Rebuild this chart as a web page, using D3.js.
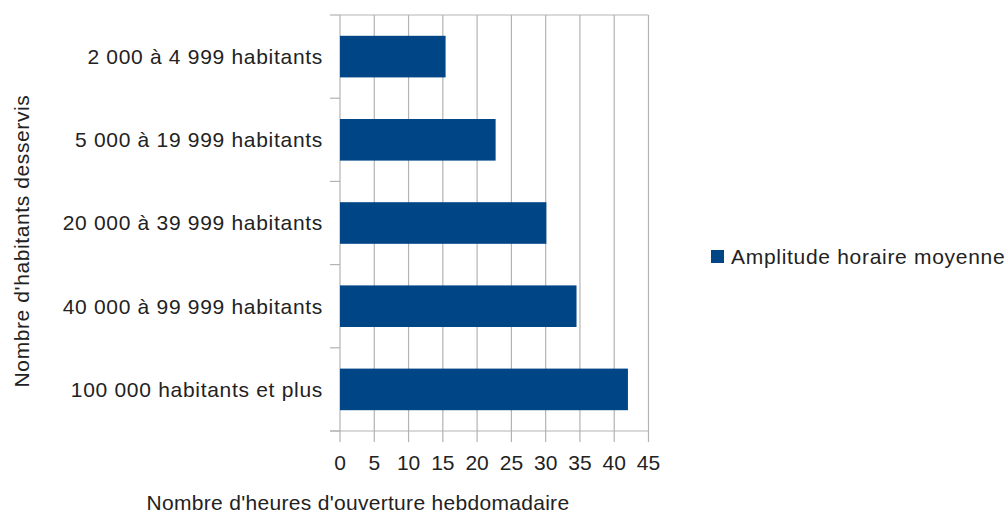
<!DOCTYPE html>
<html><head><meta charset="utf-8">
<script src="https://cdn.jsdelivr.net/npm/d3@7"></script>
<style>body{margin:0;background:#fff}svg{display:block}text{font-family:"Liberation Sans",Arial,sans-serif;fill:#222}</style>
</head><body><svg width="1008" height="515"></svg>
<script>
const categories = ["2 000 à 4 999 habitants","5 000 à 19 999 habitants","20 000 à 39 999 habitants","40 000 à 99 999 habitants","100 000 habitants et plus"];
const values = [15.4, 22.7, 30.1, 34.5, 42.0];
const xTicks = [0,5,10,15,20,25,30,35,40,45];
const seriesName = "Amplitude horaire moyenne";
const xTitle = "Nombre d'heures d'ouverture hebdomadaire";
const yTitle = "Nombre d'habitants desservis";

const svg = d3.select("svg");
const L = 340, R = 648.5, T = 15, B = 431;
const x = d3.scaleLinear().domain([0,45]).range([L,R]);
const y = d3.scaleBand().domain(categories).range([T,B]).paddingInner(0.5).paddingOuter(0.25);
const grid = "#b3b3b3";

// gridlines
svg.append("g").selectAll("line").data(xTicks).join("line")
  .attr("x1",d=>x(d)).attr("x2",d=>x(d)).attr("y1",T).attr("y2",B+11)
  .attr("stroke",grid).attr("stroke-width",1.2);
// top border
svg.append("line").attr("x1",L).attr("x2",R).attr("y1",T).attr("y2",T).attr("stroke",grid).attr("stroke-width",1.2);
// bottom axis
svg.append("line").attr("x1",L-10).attr("x2",R).attr("y1",B).attr("y2",B).attr("stroke",grid).attr("stroke-width",1.2);
// category ticks (boundaries)
const bounds = d3.range(categories.length+1).map(i=>T+i*(B-T)/categories.length);
svg.append("g").selectAll("line").data(bounds).join("line")
  .attr("x1",L-10).attr("x2",L).attr("y1",d=>d).attr("y2",d=>d).attr("stroke",grid).attr("stroke-width",1.2);

// bars
svg.append("g").selectAll("rect").data(values).join("rect")
  .attr("x",x(0)).attr("y",(d,i)=>y(categories[i])).attr("width",d=>x(d)-x(0)).attr("height",y.bandwidth())
  .attr("fill","#004586");

// category labels
svg.append("g").selectAll("text").data(categories).join("text")
  .attr("x",L-17).attr("y",d=>y(d)+y.bandwidth()/2).attr("dy","0.35em").attr("text-anchor","end")
  .attr("font-size",21).attr("letter-spacing",0.7).text(d=>d);

// x tick labels
svg.append("g").selectAll("text").data(xTicks).join("text")
  .attr("x",d=>x(d)).attr("y",470).attr("text-anchor","middle").attr("font-size",21).text(d=>d);

// axis titles
svg.append("text").attr("x",358).attr("y",510).attr("text-anchor","middle").attr("font-size",21).attr("letter-spacing",0.3).text(xTitle);
svg.append("text").attr("transform","translate(29,241) rotate(-90)").attr("text-anchor","middle").attr("font-size",21).attr("letter-spacing",0.6).text(yTitle);

// legend
svg.append("rect").attr("x",711).attr("y",250).attr("width",13).attr("height",13).attr("fill","#004586");
svg.append("text").attr("x",731).attr("y",264).attr("font-size",21).attr("letter-spacing",0.7).text(seriesName);
</script></body></html>
